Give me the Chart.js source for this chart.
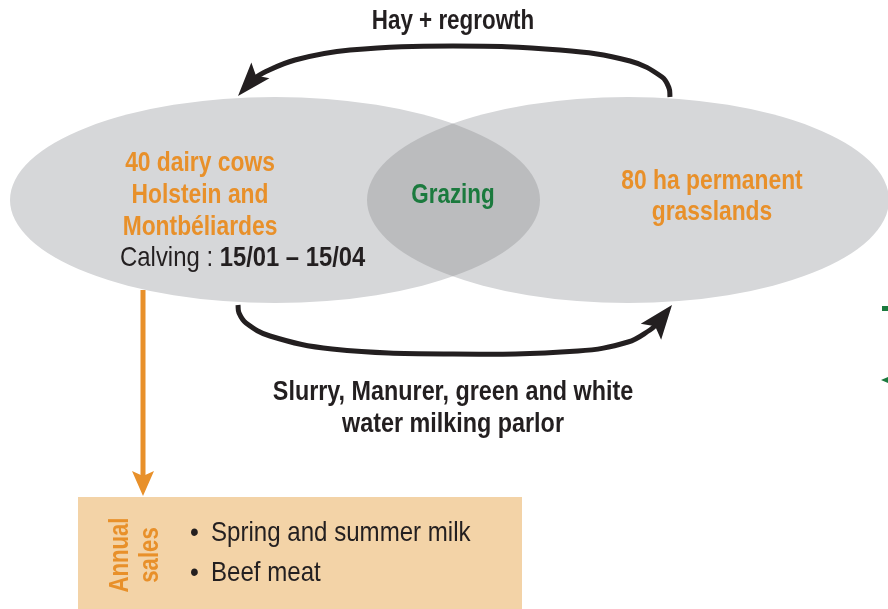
<!DOCTYPE html>
<html lang="en">
<head>
<meta charset="UTF-8" />
<script src="https://cdn.jsdelivr.net/npm/chart.js"></script>
<title>Dairy farm flows</title>
<style>
  html, body { margin: 0; padding: 0; background: #fff; }
  #wrap { width: 888px; height: 609px; }
</style>
</head>
<body>
<div id="wrap"><canvas id="diagram"></canvas></div>
<script>
// frame is 888 x 609, y grows downward
const herd = [275, 200, 265, 103];   // cx, cy, rx, ry
const grass = [628, 200, 261, 103];
const hayPath = [[670, 97], [669, 88], [662, 77], [630, 61], [560, 50], [453, 46], [350, 50], [295, 60], [263, 73], [252, 80]];
const hayTip = [238, 96];
const slurryPath = [[238, 305], [239, 313], [246, 323], [270, 336], [332, 349], [453, 354], [578, 351], [628, 342], [650, 330], [657, 324]];
const slurryTip = [672, 305];
const salesPath = [[143, 290], [143, 478]];
const salesTip = [143, 496];
const salesBox = [78, 497, 522, 609];   // x0, y0, x1, y1

const titles = ['Hay + regrowth', 'Slurry, Manurer, green and white', 'water milking parlor'];
const titlePos = [[453, 22], [453, 393], [453, 425]];
const herdLines = ['40 dairy cows', 'Holstein and', 'Montbéliardes'];
const herdPos = [[200, 163], [200, 195], [200, 227]];
const grassLines = ['80 ha permanent', 'grasslands'];
const grassPos = [[712, 181], [712, 212]];
const calving = ['Calving : ', '15/01 – 15/04'];
const sales = ['Spring and summer milk', 'Beef meat'];
const salesPos = [[190, 533], [190, 573]];

const ORANGE = '#e8902a', DARK = '#231f20', GREEN = '#1b7a3e';
const FACE = '"Liberation Sans", Arial, sans-serif';

// condensed look: squeeze the face horizontally
function text(ctx, t, px, py, align, sq) {
  const w = ctx.measureText(t).width * sq;
  const left = align === 'center' ? px - w / 2 : px;
  ctx.save();
  ctx.translate(left, py);
  ctx.scale(sq, 1);
  ctx.textAlign = 'left';
  ctx.fillText(t, 0, 0);
  ctx.restore();
  return w;
}

function head(ctx, sx, sy, tip, from, color, len, wid) {
  const tx = sx.getPixelForValue(tip[0]), ty = sy.getPixelForValue(tip[1]);
  const fx = sx.getPixelForValue(from[0]), fy = sy.getPixelForValue(from[1]);
  let ux = tx - fx, uy = ty - fy;
  const d = Math.hypot(ux, uy); ux /= d; uy /= d;
  const nx = -uy, ny = ux;
  ctx.beginPath();
  ctx.moveTo(tx, ty);
  ctx.lineTo(tx - len * ux + wid * nx, ty - len * uy + wid * ny);
  ctx.lineTo(tx - 0.8 * len * ux, ty - 0.8 * len * uy);
  ctx.lineTo(tx - len * ux - wid * nx, ty - len * uy - wid * ny);
  ctx.closePath();
  ctx.fillStyle = color;
  ctx.fill();
}

const backdrop = {
  id: 'backdrop',
  beforeDatasetsDraw(chart) {
    const { ctx, scales: { x, y } } = chart;
    const ell = (e) => {
      ctx.beginPath();
      ctx.ellipse(x.getPixelForValue(e[0]), y.getPixelForValue(e[1]),
        Math.abs(x.getPixelForValue(e[2]) - x.getPixelForValue(0)),
        Math.abs(y.getPixelForValue(e[3]) - y.getPixelForValue(0)), 0, 0, Math.PI * 2);
    };
    ctx.save();
    ctx.fillStyle = '#d6d7d9';
    ell(herd); ctx.fill();
    ell(grass); ctx.fill();
    ell(herd); ctx.clip();
    ctx.fillStyle = '#bbbcbe';
    ell(grass); ctx.fill();
    ctx.restore();

    // sales box
    ctx.save();
    ctx.fillStyle = '#f3d3a7';
    const bx = x.getPixelForValue(salesBox[0]), by = y.getPixelForValue(salesBox[1]);
    ctx.fillRect(bx, by, x.getPixelForValue(salesBox[2]) - bx, y.getPixelForValue(salesBox[3]) - by);
    ctx.restore();
  },
  afterDatasetsDraw(chart) {
    const { ctx, scales: { x, y } } = chart;
    const px = (v) => x.getPixelForValue(v), py = (v) => y.getPixelForValue(v);
    ctx.save();
    head(ctx, x, y, hayTip, hayPath[hayPath.length - 1], DARK, 34, 12);
    head(ctx, x, y, slurryTip, slurryPath[slurryPath.length - 1], DARK, 34, 13);
    head(ctx, x, y, salesTip, salesPath[salesPath.length - 1], ORANGE, 25, 11);

    ctx.textBaseline = 'middle';
    ctx.fillStyle = DARK;
    ctx.font = 'bold 27px ' + FACE;
    titles.forEach((t, i) => text(ctx, t, px(titlePos[i][0]), py(titlePos[i][1]), 'center', i === 0 ? 0.83 : 0.865));

    ctx.fillStyle = ORANGE;
    ctx.font = 'bold 27.5px ' + FACE;
    herdLines.forEach((t, i) => text(ctx, t, px(herdPos[i][0]), py(herdPos[i][1]), 'center', 0.83));
    grassLines.forEach((t, i) => text(ctx, t, px(grassPos[i][0]), py(grassPos[i][1]), 'center', 0.83));

    ctx.fillStyle = GREEN;
    ctx.font = 'bold 27px ' + FACE;
    text(ctx, 'Grazing', px(453), py(196), 'center', 0.83);

    // calving line, mixed weight
    ctx.fillStyle = DARK;
    ctx.font = '27.5px ' + FACE;
    let cx = px(120);
    cx += text(ctx, calving[0], cx, py(258), 'left', 0.87);
    ctx.font = 'bold 27.5px ' + FACE;
    text(ctx, calving[1], cx, py(258), 'left', 0.865);

    // sales box text
    ctx.font = '28px ' + FACE;
    sales.forEach((t, i) => {
      text(ctx, '\u2022', px(salesPos[i][0]), py(salesPos[i][1]), 'left', 0.9);
      text(ctx, t, px(salesPos[i][0] + 21), py(salesPos[i][1]), 'left', 0.86);
    });

    ctx.fillStyle = ORANGE;
    ctx.font = 'bold 27px ' + FACE;
    [['Annual', 121], ['sales', 151]].forEach(([t, p]) => {
      ctx.save();
      ctx.translate(px(p), py(555));
      ctx.rotate(-Math.PI / 2);
      text(ctx, t, 0, 0, 'center', 0.82);
      ctx.restore();
    });

    // cut-off marks at the right edge
    ctx.fillStyle = GREEN;
    ctx.fillRect(px(882), py(306), 6, 5);
    ctx.beginPath();
    ctx.moveTo(px(881), py(380));
    ctx.lineTo(px(888), py(377));
    ctx.lineTo(px(888), py(383));
    ctx.closePath();
    ctx.fill();
    ctx.restore();
  }
};

const toPts = (p) => p.map(([a, b]) => ({ x: a, y: b }));

new Chart(document.getElementById('diagram'), {
  type: 'scatter',
  data: {
    datasets: [
      { data: toPts(hayPath), borderColor: DARK, borderWidth: 5, showLine: true, tension: 0.4, pointRadius: 0 },
      { data: toPts(slurryPath), borderColor: DARK, borderWidth: 5, showLine: true, tension: 0.4, pointRadius: 0 },
      { data: toPts(salesPath), borderColor: ORANGE, borderWidth: 5, showLine: true, tension: 0, pointRadius: 0 }
    ]
  },
  options: {
    responsive: true,
    maintainAspectRatio: false,
    animation: false,
    layout: { padding: 0 },
    plugins: { legend: { display: false }, tooltip: { enabled: false } },
    scales: {
      x: { type: 'linear', min: 0, max: 888, display: false },
      y: { type: 'linear', min: 0, max: 609, reverse: true, display: false }
    }
  },
  plugins: [backdrop]
});
</script>
</body>
</html>
